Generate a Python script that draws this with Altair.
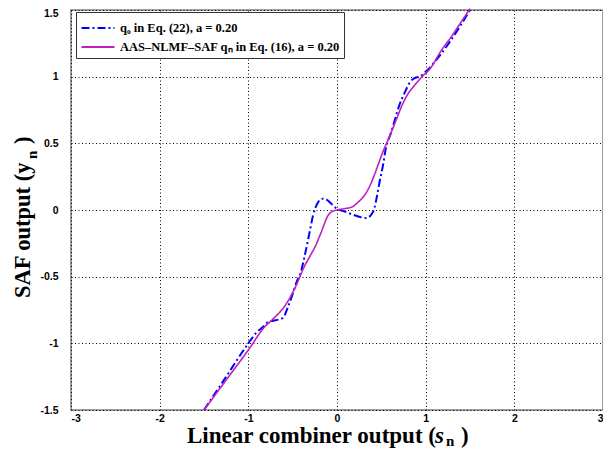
import altair as alt
import pandas as pd

# ---- data ----
series_names = ["q\u2080 in Eq. (22), a = 0.20", "AAS\u2013NLMF\u2013SAF q\u2099 in Eq. (16), a = 0.20"]

q0_x = [-1.5, -1.27, -1.0, -0.91, -0.84, -0.78, -0.72, -0.65, -0.61, -0.555, -0.5, -0.45,
        -0.41, -0.36, -0.31, -0.27, -0.22, -0.16, -0.11, -0.07, 0.0, 0.08, 0.16, 0.25, 0.33,
        0.38, 0.42, 0.45, 0.48, 0.52, 0.55, 0.61, 0.70, 0.77, 0.83, 0.88, 0.93, 1.02, 1.15,
        1.26, 1.37, 1.5]
q0_y = [-1.5, -1.27, -1.0, -0.92, -0.88, -0.84, -0.83, -0.82, -0.81, -0.73, -0.63, -0.53,
        -0.47, -0.33, -0.17, -0.04, 0.05, 0.085, 0.075, 0.05, 0.01, -0.01, -0.03, -0.05, -0.06,
        -0.04, 0.01, 0.1, 0.21, 0.34, 0.46, 0.58, 0.78, 0.89, 0.965, 0.99, 1.0, 1.05, 1.15,
        1.25, 1.36, 1.5]

saf_x = [-1.5, -1.25, -1.0, -0.82, -0.71, -0.6, -0.52, -0.45, -0.38, -0.3, -0.25, -0.18,
         -0.1, -0.05, 0.0, 0.08, 0.16, 0.24, 0.31, 0.37, 0.42, 0.47, 0.52, 0.56, 0.61, 0.67,
         0.73, 0.8, 0.88, 0.96, 1.05, 1.17, 1.3, 1.4, 1.5]
saf_y = [-1.5, -1.275, -1.05, -0.88, -0.81, -0.73, -0.645, -0.55, -0.44, -0.34, -0.28, -0.17,
         -0.04, -0.01, 0.0, 0.01, 0.02, 0.06, 0.11, 0.18, 0.26, 0.35, 0.44, 0.50, 0.58, 0.68,
         0.78, 0.87, 0.94, 1.0, 1.06, 1.19, 1.31, 1.41, 1.51]

x_ticks = [-3, -2, -1, 0, 1, 2, 3]
y_ticks = [-1.5, -1, -0.5, 0, 0.5, 1, 1.5]

x_title_parts = ["Linear combiner output (", "s", "n", ")"]
y_title_parts = ["SAF output (y", "n", ")"]

colors = ["#0000FF", "#BF1FBF"]
dashes = [[8, 3, 2, 3], [1, 0]]

df_q0 = pd.DataFrame({"x": q0_x, "y": q0_y, "series": series_names[0]})
df_saf = pd.DataFrame({"x": saf_x, "y": saf_y, "series": series_names[1]})

xs = alt.Scale(domain=[-3, 3], nice=False, zero=False)
ys = alt.Scale(domain=[-1.5, 1.5], nice=False, zero=False)

color_enc = alt.Color("series:N", scale=alt.Scale(domain=series_names, range=colors),
                      legend=alt.Legend(title=None, orient="none", legendX=5, legendY=2,
                                        symbolType="M-1.5,0H1.5", symbolSize=484,
                                        symbolStrokeWidth=1.8, symbolOffset=6,
                                        labelFont="Liberation Serif", labelFontWeight="bold",
                                        labelFontSize=12.5, labelColor="black",
                                        labelOffset=10, padding=4, rowPadding=0,
                                        fillColor="white", strokeColor="#333333",
                                        labelLimit=400))
dash_enc = alt.StrokeDash("series:N", scale=alt.Scale(domain=series_names, range=dashes),
                          legend=None)

common_axis = dict(title=None, ticks=False, domain=False, grid=True, gridDash=[1, 2.5],
                   gridColor="#000000", gridOpacity=1, gridWidth=1,
                   labelFont="Liberation Sans", labelFontWeight="bold", labelFontSize=10.5,
                   labelColor="black", labelExpr="'' + datum.value")
x_axis = alt.Axis(values=x_ticks, labelPadding=3, **common_axis)
y_axis = alt.Axis(values=y_ticks, labelPadding=13,
                  labelOffset={"condition": {"test": "datum.value == 1.5", "value": 3}, "value": 0},
                  **common_axis)

line_q0 = alt.Chart(df_q0).mark_line(strokeWidth=2, interpolate="monotone").encode(
    x=alt.X("x:Q", scale=xs, axis=x_axis),
    y=alt.Y("y:Q", scale=ys, axis=y_axis),
    color=color_enc, strokeDash=dash_enc, order=alt.Order("x:Q"))

line_saf = alt.Chart(df_saf).mark_line(strokeWidth=1.6, interpolate="monotone").encode(
    x=alt.X("x:Q", scale=xs, axis=x_axis),
    y=alt.Y("y:Q", scale=ys, axis=y_axis),
    color=color_enc, strokeDash=dash_enc, order=alt.Order("x:Q"))


def label(text, x, y, size=22.5, angle=0, style="normal"):
    return alt.Chart(pd.DataFrame({"t": [text]})).mark_text(
        font="Liberation Serif", fontWeight="bold", fontSize=size, fontStyle=style,
        align="left", baseline="alphabetic", angle=angle, color="black").encode(
        x=alt.value(x), y=alt.value(y), text="t:N")


titles = [
    label(x_title_parts[0], 116, 433, size=23),
    label(x_title_parts[1], 364, 433, size=23, style="italic"),
    label(x_title_parts[2], 375, 436, size=15),
    label(x_title_parts[3], 390, 433, size=23),
    label(y_title_parts[0], -41, 288, angle=270),
    label(y_title_parts[1], -34, 149, size=15, angle=270),
    label(y_title_parts[2], -41, 134, angle=270),
]

chart = alt.layer(line_q0, line_saf, *titles).resolve_scale(
    color="shared", strokeDash="shared"
).properties(
    width=532, height=400,
    padding={"left": 63, "top": 2, "right": 0, "bottom": 39},
    autosize=alt.AutoSizeParams(type="none"),
).configure_view(stroke="#7F7F7F", strokeWidth=1.5)

chart.save("out.html", embed_options={"renderer": "svg", "actions": False})
